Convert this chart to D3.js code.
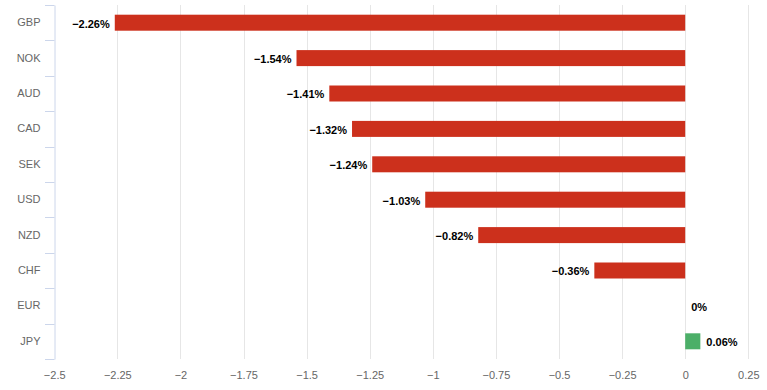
<!DOCTYPE html>
<html><head><meta charset="utf-8">
<script src="https://cdn.jsdelivr.net/npm/d3@7"></script>
<style>body{margin:0;background:#fff}svg{display:block}</style>
</head><body>
<script>
const categories = ["GBP","NOK","AUD","CAD","SEK","USD","NZD","CHF","EUR","JPY"];
const values = [-2.26,-1.54,-1.41,-1.32,-1.24,-1.03,-0.82,-0.36,0,0.06];
const tickValues = [-2.5,-2.25,-2,-1.75,-1.5,-1.25,-1,-0.75,-0.5,-0.25,0,0.25];

const W = 767, H = 390;
const m = {left:54.2, right:W-748.3, top:5, bottom:H-359};
const svg = d3.select("body").append("svg").attr("width",W).attr("height",H);
const x = d3.scaleLinear().domain([-2.5,0.25]).range([m.left, W-m.right]);
const y = d3.scaleBand().domain(categories).range([m.top, H-m.bottom]);
const font = "'Liberation Sans', Arial, sans-serif";
const fmt = v => (v < 0 ? "\u2212" + Math.abs(v) : String(v));

// gridlines
svg.append("g").selectAll("line").data(tickValues.slice(1)).join("line")
  .attr("x1",d=>Math.round(x(d))+0.5).attr("x2",d=>Math.round(x(d))+0.5)
  .attr("y1",m.top).attr("y2",H-m.bottom)
  .attr("stroke","#e6e6e6").attr("stroke-width",1);

// x axis labels
const xa = svg.append("g").attr("transform",`translate(0,${H-m.bottom})`)
  .call(d3.axisBottom(x).tickValues(tickValues).tickSize(0).tickPadding(12).tickFormat(fmt));
xa.select(".domain").remove();
xa.selectAll("text").attr("font-family",font).attr("font-size",11).attr("fill","#666");

// y axis
const ya = svg.append("g").attr("transform",`translate(${Math.round(m.left)+0.5},0)`)
  .call(d3.axisLeft(y).tickSize(0).tickPadding(14));
ya.select(".domain").attr("stroke","#ccd6eb");
ya.selectAll("text").attr("font-family",font).attr("font-size",11).attr("fill","#666");
// category boundary ticks
const bounds = categories.map(c=>y(c)).concat([y.range()[1]]);
svg.append("g").selectAll("line").data(bounds).join("line")
  .attr("x1",Math.round(m.left)-9).attr("x2",Math.round(m.left)+0.5)
  .attr("y1",d=>Math.round(d)+0.5).attr("y2",d=>Math.round(d)+0.5)
  .attr("stroke","#ccd6eb").attr("stroke-width",1);

// bars
const barH = 16;
const data = categories.map((c,i)=>({c, v:values[i]}));
svg.append("g").selectAll("rect").data(data).join("rect")
  .attr("x",d=>x(Math.min(0,d.v)))
  .attr("width",d=>Math.abs(x(d.v)-x(0)))
  .attr("y",d=>y(d.c)+y.bandwidth()/2-barH/2)
  .attr("height",barH)
  .attr("fill",d=>d.v<0?"#cc301c":"#4caf68");

// value labels
svg.append("g").selectAll("text").data(data).join("text")
  .attr("x",d=>d.v<0 ? x(d.v)-5 : x(d.v)+6)
  .attr("y",d=>y(d.c)+y.bandwidth()/2+1)
  .attr("dy","0.35em")
  .attr("text-anchor",d=>d.v<0?"end":"start")
  .attr("font-family",font).attr("font-size",11).attr("font-weight","bold")
  .attr("fill","#000")
  .text(d=>fmt(d.v)+"%");
</script>
</body></html>
